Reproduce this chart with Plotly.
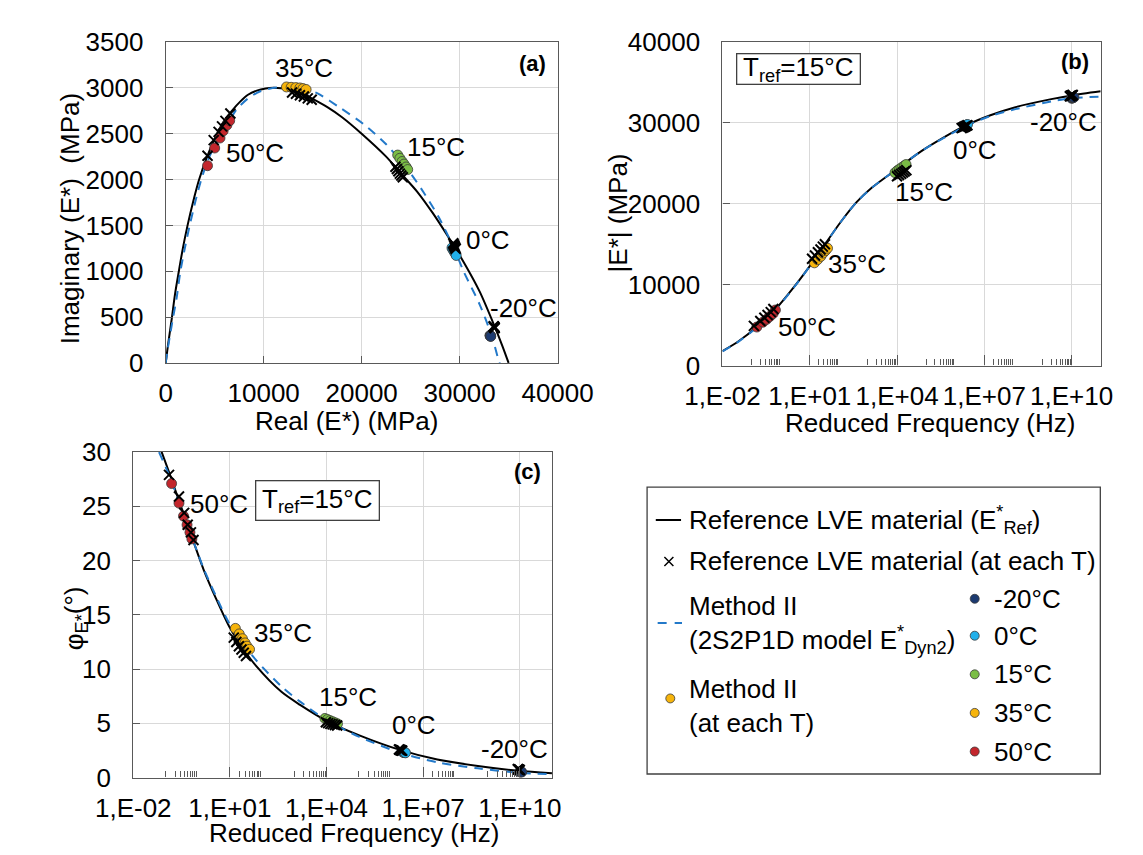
import plotly.graph_objects as go

W, H = 1143, 855
FONT = "Liberation Sans, Arial, sans-serif"
TXT = "#000000"
AXC = "#595959"
GRID = "#d9d9d9"
FS = 26

TEMPS = ["-20°C", "0°C", "15°C", "35°C", "50°C"]
TEMP_COLORS = ["#1c3a70", "#22b0ea", "#7abd45", "#f6b40c", "#c3262c"]

# ---------------- Panel (a): Cole-Cole plane ----------------
A_REF_RE = [0, 200, 400, 640, 950, 1340, 1750, 2230, 2780, 3410, 4270, 5100, 5900, 6750, 7600,
            8400, 9300, 10200, 11000, 11800, 12800, 14000, 15000, 16500, 18000, 20000, 22500,
            24100, 25700, 27250, 28850, 30450, 32050, 33600, 34350, 35000]
A_REF_IM = [0, 170, 320, 500, 750, 1000, 1250, 1500, 1750, 2000, 2260, 2470, 2630, 2750, 2850,
            2925, 2970, 2993, 3000, 2995, 2980, 2935, 2880, 2790, 2680, 2500, 2250,
            2057, 1864, 1636, 1373, 1093, 777, 391, 190, 0]
A_DYN_RE = [0, 200, 420, 760, 1100, 1500, 1950, 2450, 3000, 3630, 4270, 5000, 5550, 6250, 7200,
            8350, 9600, 10900, 11800, 12700, 13700, 14600, 15500, 17700, 20250, 22500, 24700,
            26300, 27900, 29500, 30450, 32050, 33300, 33950, 34100]
A_DYN_IM = [0, 150, 290, 500, 700, 1000, 1250, 1500, 1750, 2000, 2200, 2370, 2470, 2595, 2760,
            2880, 2960, 2998, 3005, 3005, 2995, 2975, 2940, 2790, 2600, 2385, 2110,
            1864, 1584, 1230, 988, 637, 287, 42, 0]
A_DOT_RE = [[33100, 33120, 33140, 33150, 33160, 33180],
            [29220, 29300, 29400, 29500, 29600, 29650],
            [23680, 23900, 24130, 24320, 24540, 24700],
            [12325, 12803, 13280, 13694, 14013, 14331],
            [4268, 5000, 5541, 5860, 6242, 6529]]
A_DOT_IM = [[300, 298, 296, 294, 292, 290],
            [1255, 1240, 1222, 1205, 1188, 1172],
            [2267, 2232, 2197, 2169, 2137, 2109],
            [3010, 3006, 3003, 2999, 2992, 2982],
            [2151, 2344, 2453, 2530, 2593, 2642]]
A_X_RE = [[33480, 33500, 33520, 33540, 33560, 33580],
          [29350, 29400, 29450, 29500, 29550, 29600],
          [23450, 23600, 23750, 23900, 24050, 24200],
          [12900, 13300, 13700, 14100, 14500, 14900],
          [4270, 4900, 5400, 5750, 6100, 6600]]
A_X_IM = [[400, 396, 392, 388, 384, 380],
          [1305, 1293, 1281, 1270, 1258, 1246],
          [2140, 2115, 2090, 2065, 2045, 2025],
          [2950, 2935, 2920, 2905, 2885, 2870],
          [2260, 2430, 2520, 2580, 2640, 2720]]

# ---------------- Panel (b): |E*| master curve (log10 of reduced frequency) ----------------
B_REF_LOGF = [-2, -1.46, -0.82, -0.18, 0.46, 1.0, 1.54, 2.07, 2.61, 3.14, 4.0, 4.75, 5.61, 6.36,
              7.21, 8.07, 9.3, 10.0, 11.0]
B_REF_E = [1786, 2976, 4762, 6944, 9722, 12300, 15079, 17777, 20200, 22000, 24300, 26300, 28200,
           29683, 30950, 31944, 32937, 33400, 33900]
B_DYN_LOGF = [-2, -1.46, -0.82, -0.18, 0.46, 1.0, 1.54, 2.07, 2.61, 3.14, 4.0, 4.75, 5.61, 6.36,
              7.21, 8.07, 9.3, 10.0, 11.0]
B_DYN_E = [1750, 2930, 4700, 6880, 9680, 12280, 15079, 17777, 20200, 22000, 24300, 26300, 28150,
           29600, 30850, 31700, 32650, 33050, 33250]
B_DOT_LOGF = [[10.00, 10.02, 10.03, 10.04, 10.06, 10.08],
              [6.32, 6.34, 6.36, 6.38, 6.40, 6.42],
              [3.93, 4.01, 4.09, 4.17, 4.25, 4.31],
              [1.16, 1.27, 1.38, 1.46, 1.54, 1.61],
              [-0.82, -0.61, -0.48, -0.37, -0.26, -0.18]]
B_DOT_E = [[33050, 33080, 33100, 33120, 33140, 33160],
           [29550, 29600, 29650, 29700, 29750, 29800],
           [23850, 24100, 24300, 24500, 24700, 24850],
           [12700, 13100, 13500, 13900, 14200, 14500],
           [4762, 5357, 5714, 6071, 6428, 6865]]
B_X_LOGF = [[9.94, 9.96, 9.98, 10.0, 10.02, 10.04],
            [6.22, 6.26, 6.30, 6.34, 6.38, 6.42],
            [4.00, 4.07, 4.14, 4.20, 4.26, 4.32],
            [1.08, 1.18, 1.28, 1.37, 1.45, 1.52],
            [-0.92, -0.70, -0.56, -0.45, -0.34, -0.25]]
B_X_E = [[33300, 33330, 33360, 33390, 33420, 33450],
         [29350, 29420, 29490, 29560, 29630, 29700],
         [23400, 23550, 23700, 23850, 24000, 24150],
         [13200, 13600, 14000, 14350, 14700, 15000],
         [4900, 5500, 5900, 6250, 6600, 7000]]

# ---------------- Panel (c): phase angle master curve ----------------
C_REF_LOGF = [-1.13, -0.81, -0.58, -0.31, -0.16, 0.18, 0.57, 1.0, 1.44, 1.82, 2.6, 3.18, 4.0,
              5.02, 6.28, 7.44, 8.7, 9.96, 11.0]
C_REF_PHI = [30.1, 27.5, 25.5, 23.3, 22.0, 19.2, 16.5, 13.8, 11.76, 10.27, 7.9, 6.7, 5.23,
             3.89, 2.55, 1.66, 1.07, 0.62, 0.4]
C_DYN_LOGF = [-1.2, -0.81, -0.58, -0.31, -0.16, 0.18, 0.57, 1.0, 1.44, 1.82, 2.6, 3.18, 4.0,
              5.02, 6.28, 7.44, 8.7, 9.96, 11.0]
C_DYN_PHI = [30.0, 27.3, 25.3, 23.2, 22.0, 19.3, 16.7, 14.1, 12.2, 10.8, 8.4, 7.0, 5.3,
             3.75, 2.3, 1.4, 0.85, 0.45, 0.3]
C_DOT_LOGF = [[10.00, 10.02, 10.03, 10.04, 10.05, 10.06],
              [6.37, 6.39, 6.41, 6.42, 6.44, 6.45],
              [3.95, 4.03, 4.11, 4.19, 4.27, 4.34],
              [1.17, 1.29, 1.39, 1.47, 1.53, 1.61],
              [-0.81, -0.58, -0.44, -0.33, -0.24, -0.18]]
C_DOT_PHI = [[0.53, 0.53, 0.52, 0.52, 0.51, 0.51],
             [2.34, 2.33, 2.32, 2.31, 2.30, 2.28],
             [5.45, 5.35, 5.25, 5.15, 5.05, 4.95],
             [13.75, 13.24, 12.8, 12.41, 12.11, 11.82],
             [27.1, 25.3, 24.1, 23.3, 22.6, 22.0]]
C_X_LOGF = [[9.94, 9.95, 9.96, 9.97, 9.98, 10.0],
            [6.25, 6.27, 6.29, 6.31, 6.33, 6.35],
            [3.98, 4.05, 4.12, 4.19, 4.26, 4.33],
            [1.12, 1.20, 1.28, 1.36, 1.43, 1.50],
            [-0.89, -0.58, -0.42, -0.31, -0.21, -0.13]]
C_X_PHI = [[0.78, 0.76, 0.75, 0.73, 0.72, 0.70],
           [2.58, 2.56, 2.54, 2.52, 2.50, 2.48],
           [5.10, 5.02, 4.95, 4.90, 4.85, 4.80],
           [12.9, 12.5, 12.1, 11.8, 11.5, 11.2],
           [27.9, 25.9, 24.4, 23.3, 22.6, 21.9]]

FREQ_TICK_EXP = [-2, 1, 4, 7, 10]
FREQ_TICK_TEXT = ["1,E-02", "1,E+01", "1,E+04", "1,E+07", "1,E+10"]


def hz(logs):
    return [10 ** v for v in logs]


fig = go.Figure()


def add_panel(xa, ya, xs_ref, ys_ref, xs_dyn, ys_dyn, dots_x, dots_y, xs_x, xs_y):
    fig.add_trace(go.Scatter(x=xs_ref, y=ys_ref, mode="lines", xaxis=xa, yaxis=ya,
                             line=dict(color="#000000", width=2, shape="spline", smoothing=0.8),
                             showlegend=False, hoverinfo="skip"))
    fig.add_trace(go.Scatter(x=xs_dyn, y=ys_dyn, mode="lines", xaxis=xa, yaxis=ya,
                             line=dict(color="#2379c9", width=2, dash="9px,7px",
                                       shape="spline", smoothing=0.8),
                             showlegend=False, hoverinfo="skip"))
    for i in range(len(TEMPS)):
        fig.add_trace(go.Scatter(x=dots_x[i], y=dots_y[i], mode="markers", xaxis=xa, yaxis=ya,
                                 marker=dict(size=10, color=TEMP_COLORS[i],
                                             line=dict(color="#3a3a3a", width=0.8)),
                                 showlegend=False, hoverinfo="skip"))
    for i in range(len(TEMPS)):
        fig.add_trace(go.Scatter(x=xs_x[i], y=xs_y[i], mode="markers", xaxis=xa, yaxis=ya,
                                 marker=dict(size=10, symbol="x-thin",
                                             line=dict(color="#000000", width=2)),
                                 showlegend=False, hoverinfo="skip"))


add_panel("x", "y", A_REF_RE, A_REF_IM, A_DYN_RE, A_DYN_IM, A_DOT_RE, A_DOT_IM, A_X_RE, A_X_IM)
add_panel("x2", "y2", hz(B_REF_LOGF), B_REF_E, hz(B_DYN_LOGF), B_DYN_E,
          [hz(v) for v in B_DOT_LOGF], B_DOT_E, [hz(v) for v in B_X_LOGF], B_X_E)
add_panel("x3", "y3", hz(C_REF_LOGF), C_REF_PHI, hz(C_DYN_LOGF), C_DYN_PHI,
          [hz(v) for v in C_DOT_LOGF], C_DOT_PHI, [hz(v) for v in C_X_LOGF], C_X_PHI)

# ---------------- legend (drawn on an overlay pixel axis over the legend box) ----------------
LEG_X0, LEG_X1, LEG_Y0, LEG_Y1 = 640, 1130, 478, 782
LEG_LEFT_TEXT_X = 685
LEG_RIGHT_DOT_X = 993
LEG_RIGHT_TEXT_X = 1011
LEG_ROWS_Y = [596.7, 635, 675, 715, 755]
fig.add_trace(go.Scatter(x=[652, 679], y=[515, 515], mode="lines", xaxis="x4", yaxis="y4",
                         line=dict(color="#000000", width=2), showlegend=False, hoverinfo="skip"))
fig.add_trace(go.Scatter(x=[654, 680], y=[621.7, 621.7], mode="lines", xaxis="x4", yaxis="y4",
                         line=dict(color="#2379c9", width=2, dash="9px,8px"),
                         showlegend=False, hoverinfo="skip"))
fig.add_trace(go.Scatter(x=[666], y=[558], mode="markers", xaxis="x4", yaxis="y4",
                         marker=dict(size=9, symbol="x-thin", line=dict(color="#000000", width=1.5)),
                         showlegend=False, hoverinfo="skip"))
fig.add_trace(go.Scatter(x=[667.5], y=[700], mode="markers", xaxis="x4", yaxis="y4",
                         marker=dict(size=9, color=TEMP_COLORS[3], line=dict(color="#3a3a3a", width=0.8)),
                         showlegend=False, hoverinfo="skip"))
fig.add_trace(go.Scatter(x=[LEG_RIGHT_DOT_X] * len(TEMPS), y=LEG_ROWS_Y, mode="markers",
                         xaxis="x4", yaxis="y4",
                         marker=dict(size=9, color=TEMP_COLORS, line=dict(color="#3a3a3a", width=0.8)),
                         showlegend=False, hoverinfo="skip"))


def xd(l, r):
    return [l / W, r / W]


def yd(t, b):
    return [1 - b / H, 1 - t / H]


tickfont = dict(family=FONT, size=FS, color=TXT)
lin_common = dict(showline=True, linecolor=AXC, linewidth=1.3, mirror=True, ticks="inside",
                  ticklen=7, tickcolor=AXC, tickwidth=1, showgrid=True, gridcolor=GRID,
                  gridwidth=1, zeroline=False, tickfont=tickfont, fixedrange=True,
                  tickformat="d", exponentformat="none")

minor_vals = [k * 10 ** n for n in (-1, 1, 3, 5, 7, 9) for k in range(1, 10)]
log_common = dict(type="log", range=[-2, 11], tickmode="array",
                  tickvals=[10 ** e for e in FREQ_TICK_EXP], ticktext=FREQ_TICK_TEXT,
                  showline=True, linecolor=AXC, linewidth=1.3, mirror=True, ticks="inside",
                  ticklen=10, tickcolor=AXC, tickwidth=1, showgrid=True, gridcolor=GRID,
                  zeroline=False, tickfont=tickfont, fixedrange=True, ticklabelstandoff=7,
                  minor=dict(tickmode="array", tickvals=minor_vals, ticks="inside", ticklen=6,
                             tickcolor=AXC, tickwidth=1, showgrid=False))

fig.update_layout(
    width=W, height=H, margin=dict(l=0, r=0, t=0, b=0),
    paper_bgcolor="white", plot_bgcolor="rgba(0,0,0,0)", showlegend=False,
    font=dict(family=FONT, size=FS, color=TXT),
    xaxis=dict(domain=xd(128, 547), range=[0, 40000], dtick=10000, anchor="y",
               ticklabelstandoff=7, **lin_common),
    yaxis=dict(domain=yd(19.7, 352.3), range=[0, 3500], dtick=500, anchor="x",
               ticklabelstandoff=16, **lin_common),
    xaxis2=dict(domain=xd(723.3, 1127.7), anchor="y2", **log_common),
    yaxis2=dict(domain=yd(19.7, 355), range=[0, 40000], dtick=10000, anchor="x2",
                ticklabelstandoff=16, **lin_common),
    xaxis3=dict(domain=xd(93.3, 541), anchor="y3", **log_common),
    yaxis3=dict(domain=yd(444.7, 782), range=[0, 30], dtick=5, anchor="x3",
                ticklabelstandoff=16, **lin_common),
    xaxis4=dict(domain=xd(LEG_X0, LEG_X1), range=[LEG_X0, LEG_X1], visible=False,
                anchor="y4", fixedrange=True),
    yaxis4=dict(domain=yd(LEG_Y0, LEG_Y1), range=[LEG_Y1, LEG_Y0], visible=False,
                anchor="x4", fixedrange=True),
)


def ann(text, x, y, size=FS, xanchor="center", yanchor="middle", angle=0, bold=False, **kw):
    t = f"<b>{text}</b>" if bold else text
    d = dict(text=t, x=x / W, y=1 - y / H, xref="paper", yref="paper", showarrow=False,
             xanchor=xanchor, yanchor=yanchor, textangle=angle,
             font=dict(family=FONT, size=size, color=TXT))
    d.update(kw)
    return d


anns = [
    # axis titles
    ann("Real (E*) (MPa)", 321, 412),
    ann("Imaginary (E*)\u00a0\u00a0(MPa)", 25, 203, angle=-90),
    ann("Reduced Frequency (Hz)", 945, 415),
    ann("|E*| (MPa)", 612, 197, angle=-90),
    ann("Reduced Frequency (Hz)", 329.5, 839),
    ann("φ<sub>E*</sub>(°)", 31, 617, angle=-90),
    # panel letters
    ann("(a)", 537, 42, size=22, xanchor="right", bold=True),
    ann("(b)", 1117, 40, size=22, xanchor="right", bold=True),
    ann("(c)", 531, 465, size=22, xanchor="right", bold=True),
    # temperature labels (a)
    ann("35°C", 276, 47), ann("50°C", 223, 135), ann("15°C", 417, 128),
    ann("0°C", 473, 225), ann("-20°C", 511, 295),
    # temperature labels (b)
    ann("-20°C", 1088, 103), ann("0°C", 993, 132), ann("15°C", 939, 175),
    ann("35°C", 867, 250), ann("50°C", 814, 315),
    # temperature labels (c)
    ann("50°C", 185, 498), ann("35°C", 253, 632), ann("15°C", 323, 698),
    ann("0°C", 393, 728), ann("-20°C", 501, 752),
    # Tref boxes
    ann("T<sub>ref</sub>=15°C", 804.7, 47.2, bordercolor="#404040", borderwidth=1.3,
        borderpad=0, width=122, height=29, bgcolor="white"),
    ann("T<sub>ref</sub>=15°C", 290.5, 495, bordercolor="#404040", borderwidth=1.3,
        borderpad=0, width=122, height=38, bgcolor="white"),
    # legend texts
    ann("Reference LVE material (E<sup>*</sup><sub>Ref</sub>)", LEG_LEFT_TEXT_X, 515, xanchor="left"),
    ann("Reference LVE material (at each T)", LEG_LEFT_TEXT_X, 558, xanchor="left"),
    ann("Method II<br>(2S2P1D model E<sup>*</sup><sub>Dyn2</sub>)", LEG_LEFT_TEXT_X, 623,
        xanchor="left", align="left"),
    ann("Method II<br>(at each T)", LEG_LEFT_TEXT_X, 707.5, xanchor="left", align="left"),
]
for t, yy in zip(TEMPS, LEG_ROWS_Y):
    anns.append(ann(t, LEG_RIGHT_TEXT_X, yy, xanchor="left"))
fig.update_layout(annotations=anns)

fig.add_shape(type="rect", xref="paper", yref="paper", x0=642.7 / W, x1=1127.3 / W,
              y0=1 - 778.3 / H, y1=1 - 481 / H, line=dict(color="#404040", width=1.3),
              fillcolor="rgba(0,0,0,0)")

fig.write_html("out.html")
